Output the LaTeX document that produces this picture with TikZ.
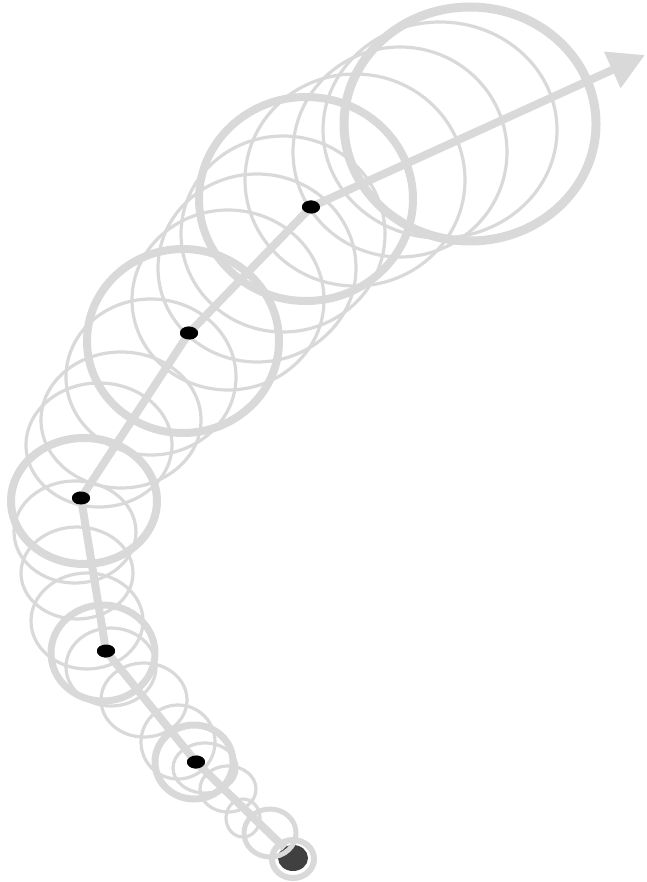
\documentclass[tikz,border=0pt]{standalone}
\usetikzlibrary{arrows.meta,shapes.geometric}
\definecolor{ringgray}{RGB}{217,217,217}
\definecolor{startdark}{RGB}{64,64,64}
\tikzset{
  thinring/.style={draw=ringgray, line width=3.2pt},
  midring/.style={draw=ringgray, line width=5pt},
  keyring/.style={draw=ringgray, line width=#1},
  keyring/.default=8pt,
  trackline/.style={draw=ringgray, line width=8pt, line join=round},
  keydot/.style={ellipse, fill=black, minimum width=18pt, minimum height=13pt, inner sep=0pt},
}
\begin{document}
\begin{tikzpicture}[x=1pt,y=-1pt]
\useasboundingbox (0,0) rectangle (646,882);
% start
\fill[startdark] (293,858) ellipse [x radius=15pt, y radius=13pt];
\draw[keyring=6pt] (293,859) ellipse [x radius=21pt, y radius=19pt];
% K0-K1
\draw[midring] (270,833) ellipse [x radius=26pt, y radius=24pt];
\draw[thinring] (243,818) ellipse [x radius=17pt, y radius=19pt];
\draw[thinring] (228,789) ellipse [x radius=28pt, y radius=23pt];
\draw[thinring] (205,768) ellipse [x radius=32pt, y radius=25pt];
\draw[keyring=7pt] (194,762) ellipse [x radius=39pt, y radius=37pt];
% K1-K2
\draw[thinring] (178,742) ellipse [x radius=37pt, y radius=37pt];
\draw[thinring] (144,700) ellipse [x radius=43pt, y radius=37pt];
\draw[thinring] (111,667) ellipse [x radius=45pt, y radius=39pt];
\draw[keyring=7pt] (103,653) ellipse [x radius=52pt, y radius=48pt];
% K2-K3
\draw[thinring] (87,621) ellipse [x radius=56pt, y radius=48pt];
\draw[thinring] (77,573) ellipse [x radius=56pt, y radius=46pt];
\draw[thinring] (75,532) ellipse [x radius=61pt, y radius=51pt];
\draw[keyring=8pt] (84,501) ellipse [x radius=73pt, y radius=63pt];
% K3-K4
\draw[thinring] (99,445) ellipse [x radius=73pt, y radius=62pt];
\draw[thinring] (121,420) ellipse [x radius=80pt, y radius=68pt];
\draw[thinring] (151,377) ellipse [x radius=85pt, y radius=78pt];
\draw[keyring=8pt] (183,341) ellipse [x radius=96pt, y radius=92pt];
% K4-K5
\draw[thinring] (228,300) ellipse [x radius=96pt, y radius=90pt];
\draw[thinring] (257,268) ellipse [x radius=99pt, y radius=94pt];
\draw[thinring] (283,234) ellipse [x radius=102pt, y radius=98pt];
\draw[keyring=8pt] (306,199) ellipse [x radius=107pt, y radius=102pt];
% K5-K6
\draw[thinring] (355,180) ellipse [x radius=110pt, y radius=106pt];
\draw[thinring] (400,152) ellipse [x radius=107pt, y radius=105pt];
\draw[thinring] (440,130) ellipse [x radius=117pt, y radius=108pt];
\draw[keyring=9pt] (470,124) ellipse [x radius=126pt, y radius=117pt];
% track
\coordinate (p0) at (294,857);
\node[keydot] (d1) at (196,762) {};
\node[keydot] (d2) at (106,651) {};
\node[keydot] (d3) at (81,498) {};
\node[keydot] (d4) at (189,333) {};
\node[keydot] (d5) at (311,207) {};
\coordinate (tip) at (645,55);
\draw[trackline, shorten <=13pt, -{Triangle[length=36pt,width=38pt]}] (p0) -- (d1.center) -- (d2.center) -- (d3.center) -- (d4.center) -- (d5.center) -- (tip);
\foreach \d in {d1,d2,d3,d4,d5} \node[keydot] at (\d) {};
\end{tikzpicture}
\end{document}
